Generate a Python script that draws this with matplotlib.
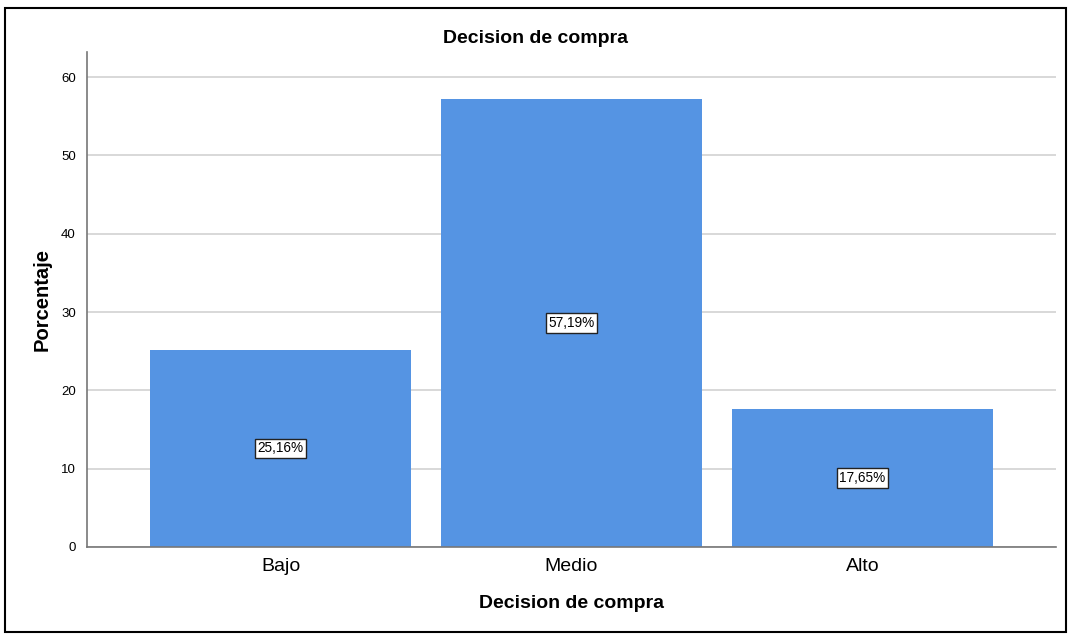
import matplotlib.pyplot as plt
from matplotlib.patches import Rectangle

categorias = ['Bajo', 'Medio', 'Alto']
porcentajes = [25.16, 57.19, 17.65]
etiquetas = ['25,16%', '57,19%', '17,65%']

plt.rcParams['font.family'] = ['Liberation Sans', 'DejaVu Sans']

fig = plt.figure(figsize=(10.69, 6.35), dpi=100)
ax = fig.add_axes([0.0814, 0.1386, 0.9064, 0.7794])

pos = range(len(categorias))
ax.bar(pos, porcentajes, width=0.897, color='#5594e3', zorder=2)

# etiqueta con recuadro a mitad de cada barra
for x, v, txt in zip(pos, porcentajes, etiquetas):
    ax.text(x, v / 2, txt, ha='center', va='center', fontsize=9.8, zorder=3,
            bbox=dict(boxstyle='square,pad=0.2', fc='white', ec='#222222', lw=1))

ax.set_xlim(-0.665, 2.665)
ax.set_ylim(0, 63.2)
ax.set_yticks([0, 10, 20, 30, 40, 50, 60])
ax.set_xticks(list(pos))
ax.set_xticklabels(categorias, fontsize=14)
ax.tick_params(axis='y', length=0, labelsize=9.5, pad=8)
ax.tick_params(axis='x', length=0, pad=8)
ax.yaxis.grid(True, color='#d2d2d2', lw=1.2, zorder=0)
ax.set_axisbelow(True)

for s in ['top', 'right']:
    ax.spines[s].set_visible(False)
ax.spines['left'].set_color('#777777')
ax.spines['bottom'].set_color('#777777')
ax.spines['left'].set_linewidth(1.2)
ax.spines['bottom'].set_linewidth(1.2)

ax.set_xlabel('Decision de compra', fontsize=14, fontweight='bold', labelpad=14)
ax.set_ylabel('Porcentaje', fontsize=14.5, fontweight='bold', labelpad=7)
fig.text(0.501, 0.94, 'Decision de compra', ha='center', va='center',
         fontsize=14, fontweight='bold')

# marco exterior
fig.patches.append(Rectangle((0.005, 0.005), 0.992, 0.982, transform=fig.transFigure,
                             fill=False, ec='black', lw=1.5))

fig.savefig('out.png', dpi=100)
